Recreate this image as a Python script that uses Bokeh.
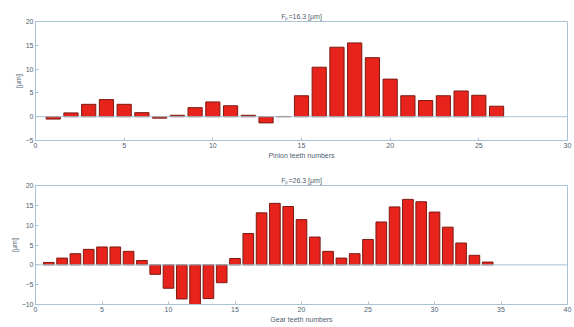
from bokeh.plotting import figure
from bokeh.models import ColumnDataSource, Range1d, FixedTicker, Span
from bokeh.layouts import column
from bokeh.embed import file_html
from bokeh.resources import INLINE

pinion_teeth = list(range(1, 27))
pinion_values = [-0.5, 0.8, 2.6, 3.6, 2.6, 0.85, -0.3, 0.3, 1.9, 3.1, 2.3, 0.3, -1.3, 0.05,
                 4.4, 10.4, 14.6, 15.5, 12.4, 7.9, 4.4, 3.4, 4.4, 5.4, 4.5, 2.2]
gear_teeth = list(range(1, 35))
gear_values = [0.6, 1.7, 2.8, 3.9, 4.5, 4.5, 3.4, 1.1, -2.4, -5.9, -8.6, -10.0, -8.5, -4.5,
               1.6, 7.9, 13.1, 15.5, 14.7, 11.4, 7.0, 3.4, 1.7, 2.8, 6.4, 10.8, 14.6, 16.5,
               15.9, 13.3, 9.5, 5.5, 2.4, 0.7]
top_title = "F\u209a=16.3 [\u03bcm]"
bottom_title = "F\u209a=26.3 [\u03bcm]"
top_xlabel = "Pinion teeth numbers"
bottom_xlabel = "Gear teeth numbers"
ylabel = "[\u03bcm]"
top_xticks = [0, 5, 10, 15, 20, 25, 30]
top_yticks = [-5, 0, 5, 10, 15, 20]
bottom_xticks = [0, 5, 10, 15, 20, 25, 30, 35, 40]
bottom_yticks = [-10, -5, 0, 5, 10, 15, 20]

AX = "#a9c3d6"
TXT = "#4f6272"
FONT = "Liberation Sans"
FS = "7px"


def style_axis(ax, ticks):
    ax.ticker = FixedTicker(ticks=ticks)
    ax.axis_line_color = AX
    ax.major_tick_line_color = AX
    ax.major_tick_in = 3
    ax.major_tick_out = 0
    ax.minor_tick_line_color = None
    ax.major_label_text_font = FONT
    ax.major_label_text_color = TXT
    ax.major_label_text_font_size = FS
    ax.major_label_standoff = 2
    ax.axis_label_text_font = FONT
    ax.axis_label_text_color = TXT
    ax.axis_label_text_font_style = "normal"
    ax.axis_label_text_font_size = FS
    ax.axis_label_standoff = 1


def make(xs, ys, xr, yr, xticks, yticks, title, xlabel, h, bl, bt, bb):
    p = figure(width=572, height=h, output_backend="svg", toolbar_location=None,
               x_range=Range1d(*xr), y_range=Range1d(*yr),
               min_border_left=bl, min_border_right=5, min_border_top=bt, min_border_bottom=bb)
    p.title.text = title
    p.title.align = "center"
    p.title.text_font = FONT
    p.title.text_font_size = FS
    p.title.text_font_style = "normal"
    p.title.text_color = TXT
    p.title.standoff = 3
    p.grid.visible = False
    p.outline_line_color = AX
    p.background_fill_color = "white"
    src = ColumnDataSource(dict(x=xs, top=ys))
    p.add_layout(Span(location=0, dimension="width", line_color=AX, line_width=1))
    p.vbar(x="x", top="top", bottom=0, width=0.8, source=src,
           fill_color="#e8231c", line_color="#7a1a12", line_width=1)
    style_axis(p.xaxis[0], xticks)
    style_axis(p.yaxis[0], yticks)
    p.xaxis[0].axis_label = xlabel
    p.yaxis[0].axis_label = ylabel
    return p


p1 = make(pinion_teeth, pinion_values, (0, 30), (-5, 20), top_xticks, top_yticks,
          top_title, top_xlabel, 161, 35, 21, 19)
p2 = make(gear_teeth, gear_values, (0, 40), (-10, 20), bottom_xticks, bottom_yticks,
          bottom_title, bottom_xlabel, 164, 33, 24, 17)

p = column(p1, p2, spacing=0)
open("out.html", "w").write(file_html(p, INLINE))
